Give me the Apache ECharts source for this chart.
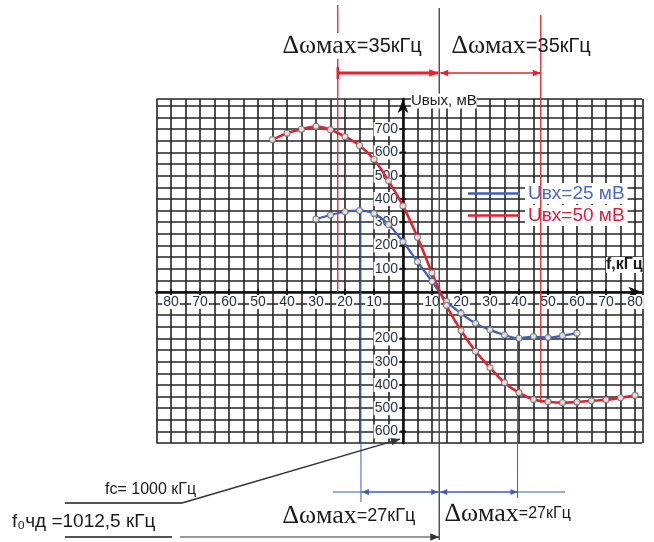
<!DOCTYPE html>
<html>
<head>
<meta charset="utf-8">
<script src="https://cdn.jsdelivr.net/npm/echarts@6/dist/echarts.min.js"></script>
<style>
  html, body { margin: 0; padding: 0; background: #fff; }
  #c { width: 654px; height: 542px; }
</style>
</head>
<body>
<div id="c"></div>
<script>
// Detuning from fc, kHz, and output voltage, mV
const blueFreq = [-30, -25, -20, -15, -10, -5, 0, 5, 10, 15, 20, 25, 30, 35, 40, 45, 50, 55, 60];
const blueVolt = [313, 331, 345, 350, 338, 290, 216, 130, 45, -40, -92, -135, -163, -185, -199, -192, -196, -188, -177];
const redFreq = [-45, -40, -35, -30, -25, -20, -15, -10, -5, 0, 5, 10, 15, 20, 25, 30, 35, 40, 45, 50, 55, 60, 65, 70, 75, 80];
const redVolt = [655, 683, 700, 712, 698, 668, 630, 570, 478, 370, 235, 82, -58, -166, -255, -325, -390, -433, -462, -472, -476, -473, -468, -464, -455, -445];

const seriesNames = ['Uвх=25 мВ', 'Uвх=50 мВ'];
const xTickLabels = [-80, -70, -60, -50, -40, -30, -20, -10, 10, 20, 30, 40, 50, 60, 70, 80];
const yTickLabels = [700, 600, 500, 400, 300, 200, 100, -200, -300, -400, -500, -600];

// Centre frequencies and deviation spans, kHz
const fcOffset = 0;          // fc = 1000 кГц
const f0Offset = 12.5;       // f0 ЧД = 1012,5 кГц
const devLarge = 35;         // Δω max for Uвх = 50 мВ
const devSmall = 27;         // Δω max for Uвх = 25 мВ

const RED = '#e8202c';
const BLUE = '#3d5fb8';
const GRIDC = '#242424';
const LABELC = '#27304a';
const SANS = 'Liberation Sans, Arial, sans-serif';
const NARROW = 'Liberation Sans Narrow, Liberation Sans, Arial, sans-serif';
const SERIF = 'Liberation Serif, Times New Roman, serif';

const pairs = (xs, ys) => xs.map((x, i) => [x, ys[i]]);

const chart = echarts.init(document.getElementById('c'), null, { renderer: 'canvas' });

const markerStyle = { color: '#fff', borderColor: '#6e6e6e', borderWidth: 1.2 };

const option = {
  animation: false,
  backgroundColor: '#fff',
  grid: { left: 156.5, right: 11.75, top: 99, bottom: 98.9 },
  legend: {
    orient: 'vertical',
    left: 463, top: 178,
    icon: 'rect',
    itemWidth: 52, itemHeight: 2.5, itemGap: 1,
    textStyle: { fontSize: 19, fontFamily: SANS, backgroundColor: '#fff', padding: [1, 3] },
    data: [
      { name: seriesNames[0], textStyle: { color: '#4a6cc4' } },
      { name: seriesNames[1], textStyle: { color: '#e0203a' } }
    ]
  },
  xAxis: {
    type: 'value', min: -85, max: 82.5, interval: 5,
    axisLine: { onZero: true, lineStyle: { color: '#111', width: 2.6 }, symbol: ['none', 'arrow'], symbolSize: [8, 14] },
    axisTick: { show: false },
    axisLabel: { show: false },
    splitLine: { show: true, lineStyle: { color: GRIDC, width: 1.6 } }
  },
  yAxis: {
    type: 'value', min: -650, max: 830, interval: 50,
    axisLine: { onZero: true, lineStyle: { color: '#111', width: 2.6 }, symbol: ['none', 'arrow'], symbolSize: [8, 14] },
    axisTick: { show: false },
    axisLabel: { show: false },
    splitLine: { show: true, lineStyle: { color: GRIDC, width: 1.6 } }
  },
  series: [
    {
      name: seriesNames[0], type: 'line', smooth: 0.35, z: 5,
      data: pairs(blueFreq, blueVolt), showSymbol: false,
      lineStyle: { color: BLUE, width: 2.2 }, itemStyle: { color: BLUE }
    },
    {
      name: seriesNames[1], type: 'line', smooth: 0.35, z: 6,
      data: pairs(redFreq, redVolt), showSymbol: false,
      lineStyle: { color: RED, width: 2.6 }, itemStyle: { color: RED }
    },
    {
      name: 'points25', type: 'scatter', z: 7, symbol: 'circle', symbolSize: 6,
      data: pairs(blueFreq, blueVolt), itemStyle: markerStyle
    },
    {
      name: 'points50', type: 'scatter', z: 7, symbol: 'circle', symbolSize: 6,
      data: pairs(redFreq, redVolt), itemStyle: markerStyle
    }
  ]
};
chart.setOption(option);

const px = (x, y) => chart.convertToPixel({ gridIndex: 0 }, [x, y]);
const yOf = v => px(0, v)[1];
const xOf = v => px(v, 0)[0];

function seg(x1, y1, x2, y2, color, width, z) {
  return { type: 'line', z: z || 20, silent: true,
    shape: { x1, y1, x2, y2 }, style: { stroke: color, lineWidth: width } };
}
function head(x, y, ang, color, size, z) {
  const c = Math.cos(ang), s = Math.sin(ang), w = size * 0.42;
  const bx = x - c * size, by = y - s * size;
  return { type: 'polygon', z: z || 21, silent: true,
    shape: { points: [[x, y], [bx - s * w, by + c * w], [bx + s * w, by - c * w]] },
    style: { fill: color } };
}
function arrow(x1, y1, x2, y2, color, width, size, both) {
  const a = Math.atan2(y2 - y1, x2 - x1);
  const out = [seg(x1, y1, x2, y2, color, width), head(x2, y2, a, color, size)];
  if (both) out.push(head(x1, y1, a + Math.PI, color, size));
  return out;
}
function label(x, y, text, opts, z) {
  return { type: 'text', z: z || 30, silent: true, x, y,
    style: Object.assign({ text, fill: '#1a1a1a', fontFamily: SANS, fontSize: 14 }, opts) };
}
function dwText(x, y, num, bSize, bg) {
  return { type: 'text', z: 30, silent: true, x, y,
    style: {
      text: '{a|∆ωмах}{b|=' + num + 'кГц}',
      verticalAlign: 'middle', backgroundColor: bg ? '#fff' : 'transparent',
      rich: {
        a: { fontFamily: SERIF, fontSize: 26, fill: '#1a1a1a' },
        b: { fontFamily: SANS, fontSize: bSize, fill: '#1a1a1a' }
      }
    } };
}

const xf0 = xOf(f0Offset), xfc = xOf(fcOffset);
const xRedL = xOf(f0Offset - devLarge), xRedR = xOf(f0Offset + devLarge);
const xBlueL = xOf(f0Offset - devSmall), xBlueR = xOf(f0Offset + devSmall);
const y0 = yOf(0), yBottom = yOf(-650);
// curve levels where the bounding lines start
const yBluePeak = yOf(Math.max(...blueVolt));
const yBlueMin = yOf(Math.min(...blueVolt));
const yRedMin = yOf(Math.min(...redVolt));

const g = [];
// tick labels sit on the axis lines themselves, beneath the curves
xTickLabels.forEach(v => g.push(label(xOf(v), y0 + 3, String(Math.abs(v)),
  { align: 'center', verticalAlign: 'top', fill: LABELC, backgroundColor: '#fff', padding: [0, 1] }, 2)));
yTickLabels.forEach(v => g.push(label(xfc - 4, yOf(v), String(Math.abs(v)),
  { align: 'right', verticalAlign: 'middle', fill: LABELC, backgroundColor: '#fff', padding: [0, 1] }, 2)));
// axis tick marks at labelled values
xTickLabels.forEach(v => g.push(seg(xOf(v), y0 - 3, xOf(v), y0 + 3, '#111', 1.8, 3)));
yTickLabels.forEach(v => g.push(seg(xfc - 3, yOf(v), xfc + 3, yOf(v), '#111', 1.8, 3)));

// f0 reference line
g.push(seg(xf0, 8, xf0, 540, '#4a4a4a', 1.4, 4));
// deviation bounds for Uвх = 50 мВ
g.push(seg(xRedL, 5, xRedL, y0, RED, 1.3, 4));
g.push(seg(xRedR, 15, xRedR, yRedMin, RED, 1.3, 4));
g.push(dwText(283, 46, devLarge, 20, true));
g.push(dwText(452, 46, devLarge, 20, false));
g.push(...arrow(xRedL, 73, xf0 - 1, 73, RED, 3, 9, false));
g.push(seg(xRedL, 67, xRedL, 79, RED, 2.5));
g.push(...arrow(xf0 + 1, 73, xRedR, 73, RED, 1.3, 8, true));
// deviation bounds for Uвх = 25 мВ
g.push(seg(xBlueL, yBluePeak, xBlueL, 502, BLUE, 1, 4));
g.push(seg(xBlueR, yBlueMin, xBlueR, 498, BLUE, 1, 4));
g.push(seg(333, 492, 565, 492, BLUE, 1, 15));
g.push(...arrow(xBlueL + 1, 492, xf0 - 1, 492, BLUE, 1, 7, true));
g.push(...arrow(xf0 + 1, 492, xBlueR, 492, BLUE, 1, 7, true));
g.push(dwText(283, 516, devSmall, 18, true));
g.push(dwText(445, 514, devSmall, 16, false));
// fc and f0 annotations
g.push(label(105, 490, 'fc= 1000 кГц', { fontSize: 16, fontFamily: NARROW, verticalAlign: 'middle' }));
g.push(seg(65, 503, 182, 503, '#1a1a1a', 1.6));
g.push(...arrow(182, 503, xfc - 3, yBottom - 4, '#333', 1.4, 9, false));
g.push(label(12, 522, 'f₀чд =1012,5 кГц', { fontSize: 19, fontFamily: NARROW, verticalAlign: 'middle' }));
g.push(seg(65, 537, 172, 537, '#1a1a1a', 1.6));
g.push(...arrow(180, 537, xf0, 537, '#333', 1.2, 9, false));
// axis names
g.push(label(xfc + 8, 101, 'Uвых, мВ', { fontSize: 15, verticalAlign: 'middle', backgroundColor: '#fff' }));
g.push(label(606, 265, 'f,кГц', { fontSize: 16, fontWeight: 'bold', verticalAlign: 'middle', backgroundColor: '#fff' }));

chart.setOption({ graphic: g });
</script>
</body>
</html>
